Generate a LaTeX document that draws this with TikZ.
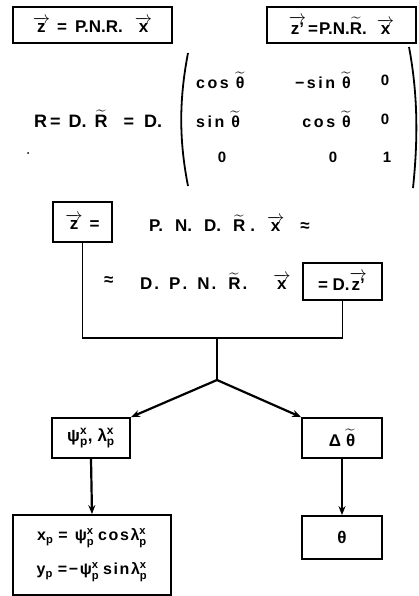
\documentclass[tikz,border=0pt]{standalone}
\usepackage{amsmath}
\usepackage{fontspec}
\setmainfont{Liberation Sans}
\usetikzlibrary{arrows.meta}
\newcommand{\vx}{$\overrightarrow{\text{x}}$}
\newcommand{\vz}{$\overrightarrow{\text{z}}$}
\newcommand{\vzp}{$\overrightarrow{\text{z'}}$}
\newcommand{\tR}{$\widetilde{\text{R}}$}
\newcommand{\tth}{$\widetilde{\text{θ}}$}
\newcommand{\sxp}{$^{\text{x}}_{\text{p}}$}
\newcommand{\ssp}{$_{\text{p}}$}
\newcommand{\hs}[1]{\hspace{#1pt}}
\tikzset{
  every node/.style={font=\fontsize{17}{20}\selectfont\bfseries, inner sep=0pt},
  boxn/.style={draw, line width=1.8pt, rectangle, align=center},
  line/.style={line width=1.8pt},
  arr/.style={line width=2.2pt, -{Stealth[length=9pt,width=7pt]}},
  spaced/.style={font=\fontsize{16}{19}\selectfont\bfseries\addfontfeature{LetterSpace=16}},
  wide/.style={font=\fontsize{16}{34}\selectfont\bfseries\addfontfeature{LetterSpace=10}},
  digit/.style={font=\fontsize{15}{18}\selectfont\bfseries}
}
\begin{document}
\begin{tikzpicture}[x=1pt,y=-1pt]
\useasboundingbox (0,0) rectangle (418,596);
% top boxes
\node[boxn, minimum width=159pt, minimum height=36pt] (tl) at (92.5,25) {\vz\hs{7}=\hs{8}P.N.R.\hs{12}\vx};
\node[boxn, minimum width=149pt, minimum height=36pt] (tr) at (341.5,25) {\vzp\hs{2}=\hs{1}P.N.\tR.\hs{10}\vx};
% matrix
\node[font=\fontsize{18}{20}\selectfont\bfseries, anchor=west] (rl) at (34,119) {R\hs{3}=\hs{8}D.\hs{8}\tR\hs{16}=\hs{10}D.};
\fill (28,153) circle (1pt);
\draw[line] (188,53) .. controls (179,100) and (179,140) .. (188,186);
\draw[line] (409,47) .. controls (418,95) and (418,140) .. (413,188);
\node[spaced, anchor=west] (m11) at (196,80) {cos \tth};
\node[spaced, anchor=east] (m12) at (351,80) {−sin \tth};
\node[digit] (m13) at (385,80) {0};
\node[spaced, anchor=west] (m21) at (196,119) {sin \tth};
\node[spaced, anchor=east] (m22) at (351,119) {cos \tth};
\node[digit] (m23) at (385,119) {0};
\node[digit] (m31) at (222,157) {0};
\node[digit] (m32) at (333,157) {0};
\node[digit] (m33) at (387,157) {1};
% middle
\node[boxn, minimum width=59pt, minimum height=40pt] (zb) at (82.5,222) {\vz\hs{7}=};
\node[anchor=west] (l1) at (149,223) {P.\hs{12}N.\hs{12}D.\hs{12}\tR\hs{5}.\hs{12}\vx\hs{16}≈};
\node[anchor=west] (l2a) at (104,281) {≈};
\node[anchor=west] (l2) at (140,281) {D\hs{2}.\hs{10}P\hs{2}.\hs{10}N\hs{2}.\hs{12}\tR\hs{2}.\hs{26}\vx};
\node[boxn, minimum width=79pt, minimum height=37pt] (dz) at (342.5,281.5) {= D.\vzp};
\coordinate (c1) at (82.5,338);
\coordinate (c2) at (342.5,338);
\coordinate (j1) at (217,338);
\coordinate (j2) at (217,380);
\draw[line] (zb.south) -- (c1) -- (c2) -- (dz.south);
\draw[line] (j1) -- (j2);
% level 2
\node[boxn, minimum width=78pt, minimum height=40pt] (pl) at (91,438) {ψ\sxp,\hs{5}λ\sxp};
\node[boxn, minimum width=80pt, minimum height=40pt] (dt) at (342,438) {Δ\hs{5}\tth};
\draw[arr] (j2) -- (pl.north east);
\draw[arr] (j2) -- (dt.north west);
% level 3
\node[boxn, wide, minimum width=158pt, minimum height=80pt] (xy) at (92,555) {x\ssp\hs{5}=\hs{7}ψ\sxp\hs{4}cosλ\sxp\\ y\ssp\hs{5}=−ψ\sxp\hs{4}sinλ\sxp};
\node[boxn, minimum width=80pt, minimum height=43pt] (th) at (342,537.5) {θ};
\draw[arr] (pl.south) -- (xy.north);
\draw[arr] (dt.south) -- (th.north);
\end{tikzpicture}
\end{document}
